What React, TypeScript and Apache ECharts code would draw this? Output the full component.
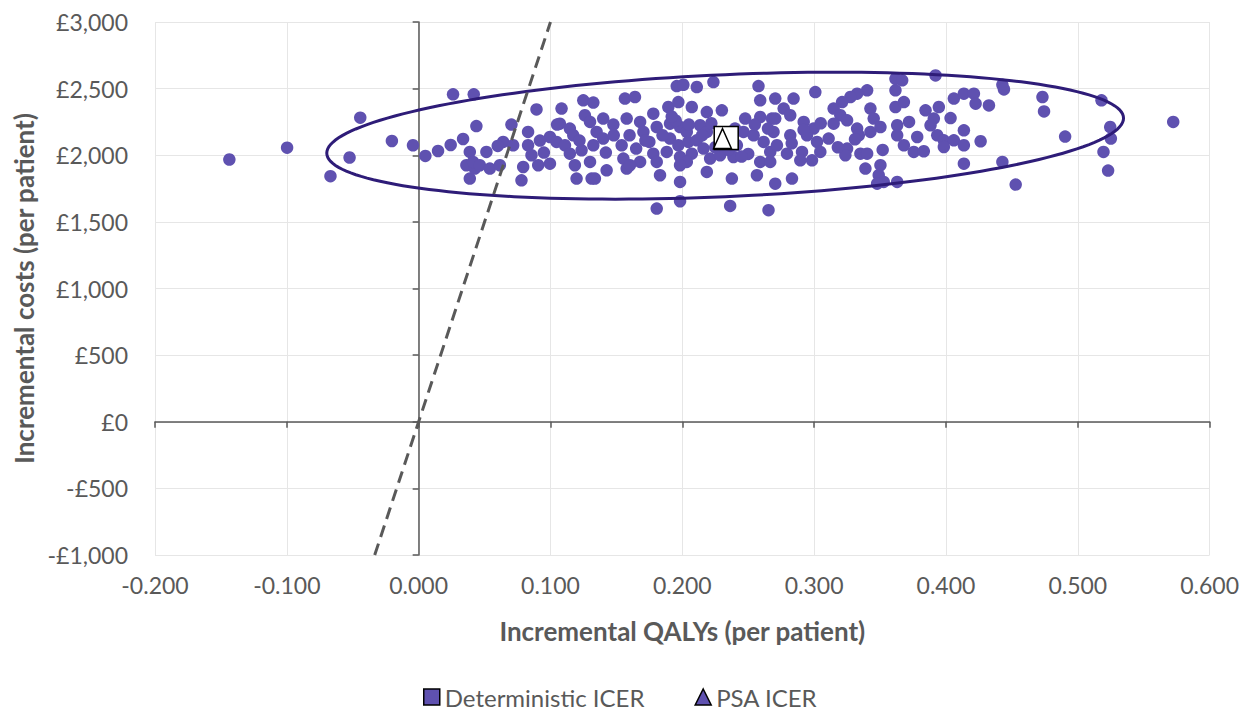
import React, { useEffect, useRef } from "react";
import * as echarts from "echarts";

// PSA simulation results: incremental QALYs and incremental costs (£)
const psaQalys = [
  -0.1436, -0.0998, -0.0443, -0.0669, -0.0524, -0.0203, -0.0043, 0.0051, 0.0147, 0.0243,
  0.0337, 0.0438, 0.0261, 0.0418, 0.0388, 0.0362, 0.0388, 0.0426, 0.0894, 0.1084,
  0.1249, 0.1325, 0.1565, 0.0704, 0.083, 0.1071, 0.1147, 0.1173, 0.1261, 0.13,
  0.14, 0.1477, 0.135, 0.14, 0.1325, 0.0996, 0.1046, 0.111, 0.0641, 0.0717,
  0.0514, 0.0413, 0.0464, 0.054, 0.0616, 0.06, 0.083, 0.0856, 0.0793, 0.078,
  0.0907, 0.0996, 0.1147, 0.1185, 0.1198, 0.1236, 0.13, 0.1312, 0.1337, 0.1426,
  0.154, 0.1553, 0.1578, 0.092, 0.122, 0.1641, 0.1958, 0.2008, 0.211, 0.2236,
  0.2578, 0.2591, 0.2705, 0.1578, 0.168, 0.178, 0.1894, 0.197, 0.2072, 0.2186,
  0.23, 0.2477, 0.2591, 0.268, 0.1705, 0.1806, 0.1907, 0.1983, 0.2034, 0.2135,
  0.2186, 0.1907, 0.197, 0.2046, 0.211, 0.2161, 0.2072, 0.1983, 0.1882, 0.178,
  0.1806, 0.168, 0.1603, 0.2287, 0.2414, 0.2464, 0.2541, 0.2617, 0.2667, 0.2591,
  0.2667, 0.2211, 0.2186, 0.2287, 0.2388, 0.2034, 0.1983, 0.1831, 0.1983, 0.2376,
  0.2566, 0.2705, 0.1806, 0.1983, 0.2363, 0.2654, 0.3009, 0.3617, 0.3668, 0.3617,
  0.2844, 0.3402, 0.3326, 0.3275, 0.3212, 0.3148, 0.3427, 0.3617, 0.3681, 0.3845,
  0.2769, 0.2705, 0.2819, 0.2921, 0.2996, 0.3199, 0.325, 0.3148, 0.3452, 0.3503,
  0.3427, 0.3326, 0.3339, 0.363, 0.363, 0.3782, 0.3681, 0.3756, 0.3832, 0.2692,
  0.2819, 0.2946, 0.3022, 0.311, 0.2718, 0.2794, 0.2908, 0.3047, 0.2895, 0.2984,
  0.325, 0.3237, 0.3351, 0.3402, 0.3389, 0.3503, 0.349, 0.3528, 0.363, 0.3478,
  0.2832, 0.3921, 0.4428, 0.444, 0.4732, 0.4744, 0.406, 0.4136, 0.4212, 0.4225,
  0.4326, 0.3946, 0.3908, 0.4035, 0.3883, 0.4136, 0.3934, 0.3984, 0.406, 0.4136,
  0.4263, 0.3984, 0.4136, 0.4428, 0.4529, 0.4904, 0.518, 0.5246, 0.5251, 0.5195,
  0.523, 0.5724, 0.215, 0.225, 0.24, 0.25, 0.185, 0.195, 0.205, 0.222,
  0.235, 0.245, 0.255, 0.265, 0.175, 0.16, 0.165, 0.095, 0.105, 0.142,
  0.148, 0.172, 0.192, 0.283, 0.292, 0.305, 0.318, 0.331, 0.352, 0.372,
];
const psaCosts = [
  1968, 2057, 2282, 1843, 1983, 2107, 2075, 1995, 2032, 2077,
  2122, 2219, 2457, 2457, 2025, 1925, 1825, 1900, 2344, 2350,
  2412, 2395, 2425, 2230, 2175, 2237, 2200, 2150, 2300, 2250,
  2275, 2230, 2175, 2125, 2075, 2137, 2100, 2075, 2100, 2075,
  2025, 1950, 1925, 1900, 1925, 2070, 2075, 2000, 1912, 1812,
  1925, 1937, 2012, 1925, 1825, 2037, 1950, 1825, 1825, 1887,
  2075, 1975, 1900, 2110, 2110, 2437, 2519, 2529, 2512, 2549,
  2519, 2412, 2425, 2275, 2250, 2312, 2362, 2399, 2362, 2324,
  2337, 2275, 2287, 2275, 2175, 2212, 2237, 2212, 2175, 2225,
  2175, 2125, 2075, 2100, 2112, 2050, 2012, 1987, 2025, 2012,
  1950, 1950, 1925, 2100, 2075, 2175, 2150, 2100, 2025, 1950,
  1950, 1975, 1875, 2000, 1987, 1950, 1925, 1850, 1800, 1825,
  1850, 1787, 1600, 1655, 1620, 1588, 2474, 2574, 2562, 2487,
  2425, 2487, 2462, 2437, 2399, 2350, 2350, 2362, 2399, 2337,
  2350, 2275, 2300, 2250, 2200, 2300, 2262, 2237, 2275, 2212,
  2175, 2200, 2150, 2225, 2150, 2137, 2075, 2025, 2030, 2175,
  2150, 2150, 2100, 2125, 2075, 2012, 2025, 2025, 1962, 1962,
  2050, 2000, 2012, 2012, 1900, 1925, 1850, 1800, 1800, 1787,
  1825, 2599, 2529, 2494, 2437, 2329, 2425, 2462, 2462, 2387,
  2374, 2362, 2275, 2279, 2225, 2187, 2150, 2112, 2112, 2075,
  2105, 2062, 1937, 1950, 1780, 2140, 2412, 2212, 2125, 2025,
  1885, 2250, 2150, 2060, 2200, 2010, 2150, 2260, 2230, 2240,
  2040, 1990, 2230, 2200, 2100, 2150, 2050, 2020, 2230, 2020,
  2150, 2110, 2290, 2090, 2190, 2240, 2060, 2120, 2040, 2250,
];

const deterministicIcer = [0.2333, 2130];
const psaIcer = [0.2305, 2125];

// Willingness-to-pay threshold (£ per QALY)
const wtpThreshold = 30000;

// 95% confidence ellipse: centre, half-width in QALYs, vertical amplitude and tilt in £
const ellipseCentre = [0.2325, 2147];
const ellipseHalfWidth = 0.3022;
const ellipseHalfHeight = 458;
const ellipseTilt = 131;

const xTicks = { min: -0.2, max: 0.6, interval: 0.1 };
const yTicks = { min: -1000, max: 3000, interval: 500 };

const FONT = "Lato, 'Open Sans', sans-serif";
const TEXT = "#595959";
const PURPLE = "#5f51b0";

function money(v: number) {
  const s = "£" + Math.abs(v).toLocaleString("en-GB");
  return v < 0 ? "-" + s : s;
}

export default function App() {
  const ref = useRef<HTMLDivElement>(null);
  useEffect(() => {
    if (!ref.current) return;
    const chart = echarts.init(ref.current, undefined, { renderer: "svg" });
    const points = psaQalys.map((q, i) => [q, psaCosts[i]]);
    const lineY0 = yTicks.min;
    const lineY1 = yTicks.max;
    const wtpLine = [
      [lineY0 / wtpThreshold, lineY0],
      [lineY1 / wtpThreshold, lineY1],
    ];
    chart.setOption({
      animation: false,
      backgroundColor: "#fff",
      grid: { left: 155, right: 32, top: 22, bottom: 157, containLabel: false },
      legend: {
        left: 423,
        top: 685,
        padding: 0,
        itemWidth: 16,
        itemHeight: 16,
        itemGap: 50,
        textStyle: { fontFamily: FONT, fontSize: 24, lineHeight: 24, color: TEXT },
        data: [
          {
            name: "Deterministic ICER",
            icon: "rect",
            itemStyle: { color: PURPLE, borderColor: "#000", borderWidth: 1.5 },
          },
          {
            name: "PSA ICER",
            icon: "triangle",
            itemStyle: { color: PURPLE, borderColor: "#000", borderWidth: 1.5 },
          },
        ],
      },
      xAxis: [
        {
          type: "value",
          ...xTicks,
          position: "bottom",
          axisLine: { show: false, onZero: false },
          axisTick: { show: false },
          splitLine: { show: true, lineStyle: { color: "#e6e6e6", width: 1 } },
          axisLabel: {
            formatter: (v: number) => v.toFixed(3),
            margin: 18,
            fontFamily: FONT,
            fontSize: 23,
            color: TEXT,
          },
          name: "Incremental QALYs (per patient)",
          nameLocation: "middle",
          nameGap: 63,
          nameTextStyle: { fontFamily: FONT, fontSize: 26, fontWeight: "bold", color: TEXT },
        },
        {
          type: "value",
          ...xTicks,
          position: "bottom",
          axisLine: { show: true, onZero: true, onZeroAxisIndex: 1, lineStyle: { color: "#595959", width: 1.5 } },
          axisTick: { show: true, length: 6, lineStyle: { color: "#595959", width: 1.5 } },
          axisLabel: { show: false },
          splitLine: { show: false },
        },
      ],
      yAxis: [
        {
          type: "value",
          ...yTicks,
          position: "left",
          axisLine: { show: false, onZero: false },
          axisTick: { show: false },
          splitLine: { show: true, lineStyle: { color: "#e6e6e6", width: 1 } },
          axisLabel: {
            formatter: (v: number) => money(v),
            margin: 27,
            fontFamily: FONT,
            fontSize: 23,
            color: TEXT,
          },
          name: "Incremental costs (per patient)",
          nameLocation: "middle",
          nameGap: 109,
          nameTextStyle: { fontFamily: FONT, fontSize: 26, fontWeight: "bold", color: TEXT },
        },
        {
          type: "value",
          ...yTicks,
          position: "left",
          axisLine: { show: true, onZero: true, onZeroAxisIndex: 0, lineStyle: { color: "#595959", width: 1.5 } },
          axisTick: { show: true, length: 6, lineStyle: { color: "#595959", width: 1.5 } },
          axisLabel: { show: false },
          splitLine: { show: false },
        },
      ],
      series: [
        {
          name: "PSA",
          type: "scatter",
          xAxisIndex: 0,
          yAxisIndex: 0,
          symbol: "circle",
          symbolSize: 12.5,
          itemStyle: { color: PURPLE, opacity: 1 },
          data: points,
          z: 2,
        },
        {
          name: "Ellipse",
          type: "custom",
          xAxisIndex: 0,
          yAxisIndex: 0,
          data: [ellipseCentre],
          z: 3,
          renderItem: (_params: any, api: any) => {
            const pts: number[][] = [];
            for (let deg = 0; deg < 360; deg += 2) {
              const t = (deg * Math.PI) / 180;
              pts.push(
                api.coord([
                  ellipseCentre[0] + ellipseHalfWidth * Math.cos(t),
                  ellipseCentre[1] + ellipseTilt * Math.cos(t) + ellipseHalfHeight * Math.sin(t),
                ])
              );
            }
            return {
              type: "polygon",
              shape: { points: pts },
              style: { fill: "none", stroke: "#2e1c78", lineWidth: 3 },
            };
          },
        },
        {
          name: "WTP",
          type: "line",
          xAxisIndex: 0,
          yAxisIndex: 0,
          data: wtpLine,
          symbol: "none",
          lineStyle: { color: "#595959", width: 3, type: [12, 7] },
          z: 4,
        },
        {
          name: "Deterministic ICER",
          type: "scatter",
          xAxisIndex: 0,
          yAxisIndex: 0,
          symbol: "rect",
          symbolSize: [24, 23],
          itemStyle: { color: "#ffffff", borderColor: "#000", borderWidth: 1.5, opacity: 1 },
          data: [deterministicIcer],
          z: 5,
        },
        {
          name: "PSA ICER",
          type: "scatter",
          xAxisIndex: 0,
          yAxisIndex: 0,
          symbol: "triangle",
          symbolSize: [18, 20],
          itemStyle: { color: "#ffffff", borderColor: "#000", borderWidth: 1.5, opacity: 1 },
          data: [psaIcer],
          z: 6,
        },
      ],
    });
    return () => chart.dispose();
  }, []);
  return (
    <div
      ref={ref}
      style={{ position: "fixed", left: 0, top: 0, width: 1242, height: 712, background: "#fff" }}
    />
  );
}
